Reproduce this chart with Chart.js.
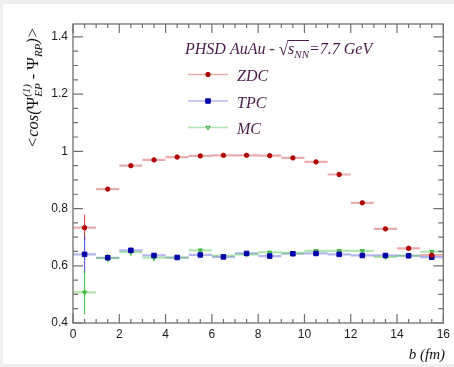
<!DOCTYPE html>
<html>
<head>
<meta charset="utf-8">
<script src="https://cdn.jsdelivr.net/npm/chart.js@4/dist/chart.umd.min.js"></script>
<style>
  html, body { margin: 0; padding: 0; background: #efefef; }
  canvas { display: block; }
</style>
</head>
<body>
<canvas id="plot" width="454" height="367"></canvas>
<script>
// impact parameter bins (fm) and half bin width
const bins = [0.5, 1.5, 2.5, 3.5, 4.5, 5.5, 6.5, 7.5, 8.5, 9.5, 10.5, 11.5, 12.5, 13.5, 14.5, 15.5];
const binHalfWidth = 0.5;

// <cos(Psi_EP - Psi_RP)> per detector
const zdcVals = [0.733, 0.868, 0.950, 0.970, 0.980, 0.984, 0.986, 0.986, 0.985, 0.977, 0.963, 0.919, 0.820, 0.729, 0.661, 0.637];
const zdcErrs = [0.045, 0.005, 0.004, 0.003, 0.003, 0.003, 0.003, 0.003, 0.003, 0.003, 0.003, 0.004, 0.004, 0.004, 0.005, 0.006];
const tpcVals = [0.640, 0.628, 0.654, 0.636, 0.629, 0.638, 0.631, 0.643, 0.634, 0.642, 0.643, 0.640, 0.636, 0.636, 0.635, 0.630];
const tpcErrs = [0.065, 0.008, 0.007, 0.006, 0.005, 0.005, 0.005, 0.005, 0.005, 0.005, 0.005, 0.005, 0.005, 0.006, 0.006, 0.007];
const mcVals  = [0.507, 0.627, 0.648, 0.628, 0.628, 0.654, 0.635, 0.640, 0.647, 0.645, 0.652, 0.652, 0.652, 0.631, 0.635, 0.649];
const mcErrs  = [0.077, 0.015, 0.014, 0.012, 0.006, 0.006, 0.005, 0.005, 0.005, 0.005, 0.005, 0.005, 0.005, 0.006, 0.006, 0.007];

const xTickValues = [0, 2, 4, 6, 8, 10, 12, 14, 16];
const xTickLabels = ['0', '2', '4', '6', '8', '10', '12', '14', '16'];
const yTickValues = [0.4, 0.6, 0.8, 1.0, 1.2, 1.4];
const yTickLabels = ['0.4', '0.6', '0.8', '1', '1.2', '1.4'];

const serif = '"Liberation Serif", "DejaVu Serif", serif';
const sans = '"Liberation Sans", Arial, sans-serif';
const textColor = '#4a1c4a';

function points(vals, errs) {
  return bins.map((b, i) => ({ x: b, y: vals[i], xe: binHalfWidth, ye: errs[i] }));
}

// page background: grey margin with white pad
const padBg = {
  id: 'padBg',
  beforeDraw(chart) {
    const ctx = chart.ctx;
    ctx.save();
    ctx.fillStyle = '#efefef';
    ctx.fillRect(0, 0, chart.width, chart.height);
    ctx.fillStyle = '#ffffff';
    ctx.fillRect(3, 4, chart.width - 3, chart.height - 7);
    ctx.restore();
  }
};

// ROOT style frame with inward ticks on all four sides
const frame = {
  id: 'frame',
  afterDatasetsDraw(chart) {
    const { ctx, chartArea: a, scales: { x, y } } = chart;
    const L = a.left, R = a.right, T = a.top, B = a.bottom;
    ctx.save();
    ctx.strokeStyle = '#707070';
    ctx.lineWidth = 1.3;
    ctx.strokeRect(L, T, R - L, B - T);
    ctx.lineWidth = 1.2;
    for (let i = 0; i <= 32; i++) {
      const px = x.getPixelForValue(i * 0.5);
      const len = i % 4 === 0 ? 9 : 4;
      ctx.beginPath();
      ctx.moveTo(px, B); ctx.lineTo(px, B - len);
      ctx.moveTo(px, T); ctx.lineTo(px, T + len);
      ctx.stroke();
    }
    for (let i = 0; i <= 20; i++) {
      const py = y.getPixelForValue(0.4 + i * 0.05);
      const len = i % 4 === 0 ? 10 : 5;
      ctx.beginPath();
      ctx.moveTo(L, py); ctx.lineTo(L + len, py);
      ctx.moveTo(R, py); ctx.lineTo(R - len, py);
      ctx.stroke();
    }
    ctx.restore();
  }
};

// horizontal bin-width bars and vertical error bars
const errorBars = {
  id: 'errorBars',
  beforeDatasetsDraw(chart) {
    const { ctx, chartArea: a, scales: { x, y } } = chart;
    ctx.save();
    ctx.beginPath();
    ctx.rect(a.left, a.top, a.right - a.left, a.bottom - a.top);
    ctx.clip();
    chart.data.datasets.forEach(ds => {
      ds.data.forEach(p => {
        const px = x.getPixelForValue(p.x);
        const py = y.getPixelForValue(p.y);
        ctx.strokeStyle = ds.hBarColor;
        ctx.lineWidth = 2.2;
        ctx.beginPath();
        ctx.moveTo(x.getPixelForValue(p.x - p.xe), py);
        ctx.lineTo(x.getPixelForValue(p.x + p.xe), py);
        ctx.stroke();
        ctx.strokeStyle = ds.vBarColor;
        ctx.lineWidth = 1.2;
        ctx.beginPath();
        ctx.moveTo(px, y.getPixelForValue(p.y - p.ye));
        ctx.lineTo(px, y.getPixelForValue(p.y + p.ye));
        ctx.stroke();
      });
    });
    ctx.restore();
  }
};

function drawParts(ctx, parts, x0, y0) {
  let cx = x0;
  parts.forEach(p => {
    ctx.font = (p.upright ? '' : 'italic ') + p.size + 'px ' + serif;
    const w = ctx.measureText(p.t).width;
    ctx.fillText(p.t, cx, y0 + (p.dy || 0));
    if (!p.stay) cx += w;
  });
  return cx - x0;
}

// title, legend and axis titles
const labels = {
  id: 'labels',
  afterDraw(chart) {
    const ctx = chart.ctx;
    ctx.save();
    ctx.textBaseline = 'alphabetic';
    ctx.textAlign = 'left';

    // title
    ctx.fillStyle = textColor;
    ctx.strokeStyle = textColor;
    let tx = 185, ty = 54;
    ctx.font = 'italic 16px ' + serif;
    ctx.fillText('PHSD AuAu - ', tx, ty);
    tx += ctx.measureText('PHSD AuAu - ').width;
    ctx.font = '17px ' + serif;
    ctx.fillText('\u221A', tx, ty + 1);
    const rootW = ctx.measureText('\u221A').width;
    const startOver = tx + rootW - 0.8;
    tx += rootW;
    ctx.font = 'italic 16px ' + serif;
    ctx.fillText('s', tx, ty);
    tx += ctx.measureText('s').width;
    ctx.font = 'italic 11px ' + serif;
    ctx.fillText('NN', tx, ty + 4);
    tx += ctx.measureText('NN').width;
    ctx.lineWidth = 1;
    ctx.beginPath();
    ctx.moveTo(startOver, ty - 13.5);
    ctx.lineTo(tx, ty - 13.5);
    ctx.stroke();
    ctx.font = 'italic 16px ' + serif;
    ctx.fillText('=7.7 GeV', tx, ty);

    // legend
    const rows = [74.5, 101, 127.5];
    chart.data.datasets.forEach((ds, i) => {
      const ly = rows[i];
      ctx.strokeStyle = ds.hBarColor;
      ctx.lineWidth = 1.6;
      ctx.beginPath();
      ctx.moveTo(188, ly);
      ctx.lineTo(228, ly);
      ctx.stroke();
      ctx.fillStyle = ds.backgroundColor;
      ctx.strokeStyle = ds.borderColor;
      ctx.lineWidth = ds.borderWidth;
      Chart.helpers.drawPoint(ctx, {
        pointStyle: ds.pointStyle, radius: ds.pointRadius, rotation: ds.pointRotation || 0,
        borderWidth: ds.borderWidth
      }, 208, ly);
      ctx.fillStyle = textColor;
      ctx.font = 'italic 16px ' + serif;
      ctx.fillText(ds.label, 237, ly + 6.5);
    });

    // x axis title
    ctx.fillStyle = '#111';
    ctx.font = 'italic 15px ' + serif;
    ctx.textAlign = 'right';
    ctx.fillText('b (fm)', 445, 359);
    ctx.textAlign = 'left';

    // y axis title, rotated
    ctx.translate(38, 148);
    ctx.rotate(-Math.PI / 2);
    const parts = [
      { t: '<cos(', size: 16.5 },
      { t: '\u03A8', size: 17, upright: true },
      { t: '(1)', size: 11, dy: -8, stay: true },
      { t: 'EP', size: 11, dy: 4 },
      { t: ' - ', size: 16.5 },
      { t: '\u03A8', size: 17, upright: true },
      { t: 'RP', size: 11, dy: 4 },
      { t: ')>', size: 16.5 }
    ];
    drawParts(ctx, parts, 0, 0);
    ctx.restore();
  }
};

const ctx = document.getElementById('plot').getContext('2d');
const chart = new Chart(ctx, {
  type: 'scatter',
  data: {
    datasets: [
      {
        label: 'ZDC',
        data: points(zdcVals, zdcErrs),
        pointStyle: 'circle',
        pointRadius: 2.2,
        borderWidth: 1,
        backgroundColor: '#b00000',
        borderColor: '#b00000',
        hBarColor: 'rgba(205, 60, 60, 0.42)',
        vBarColor: 'rgba(210, 50, 50, 0.85)'
      },
      {
        label: 'TPC',
        data: points(tpcVals, tpcErrs),
        pointStyle: 'rect',
        pointRadius: 3.2,
        borderWidth: 1,
        backgroundColor: '#0000a8',
        borderColor: '#0000a8',
        hBarColor: 'rgba(80, 80, 220, 0.42)',
        vBarColor: 'rgba(70, 70, 225, 0.85)'
      },
      {
        label: 'MC',
        data: points(mcVals, mcErrs),
        pointStyle: 'triangle',
        pointRotation: 180,
        rotation: 180,
        pointRadius: 2.4,
        borderWidth: 1,
        backgroundColor: 'rgba(255,255,255,0)',
        borderColor: '#2caa2c',
        hBarColor: 'rgba(70, 195, 70, 0.42)',
        vBarColor: 'rgba(60, 190, 60, 0.85)'
      }
    ]
  },
  options: {
    responsive: false,
    animation: false,
    layout: { padding: { left: 3, top: 24, right: 9, bottom: 0 } },
    plugins: { legend: { display: false }, tooltip: { enabled: false } },
    scales: {
      x: {
        type: 'linear',
        min: 0,
        max: 16,
        grid: { display: false, drawTicks: false },
        border: { display: false },
        afterBuildTicks: s => { s.ticks = xTickValues.map(v => ({ value: v })); },
        afterFit: s => { s.height = 44; },
        ticks: {
          autoSkip: false,
          maxRotation: 0,
          padding: 4,
          color: '#1a1a1a',
          font: { family: sans, size: 12 },
          callback: (v, i) => xTickLabels[i]
        }
      },
      y: {
        type: 'linear',
        min: 0.4,
        max: 1.445,
        grid: { display: false, drawTicks: false },
        border: { display: false },
        afterBuildTicks: s => { s.ticks = yTickValues.map(v => ({ value: v })); },
        afterFit: s => { s.width = 70; },
        ticks: {
          autoSkip: false,
          padding: 5,
          color: '#1a1a1a',
          font: { family: sans, size: 12 },
          callback: (v, i) => yTickLabels[i]
        }
      }
    }
  },
  plugins: [padBg, frame, errorBars, labels]
});
</script>
</body>
</html>
